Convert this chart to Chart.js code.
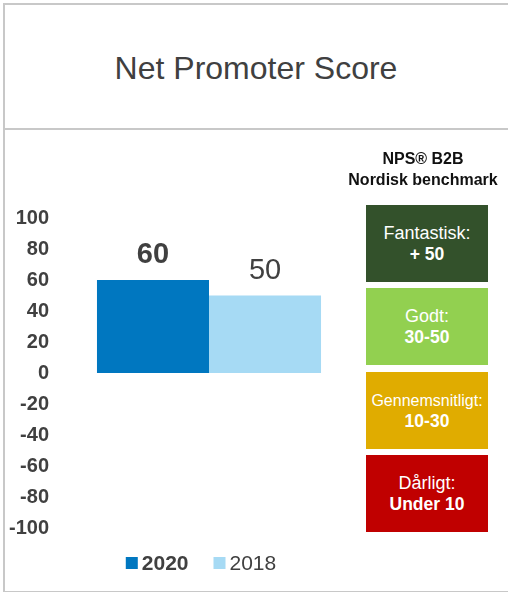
<!DOCTYPE html>
<html>
<head>
<meta charset="utf-8">
<script src="https://cdn.jsdelivr.net/npm/chart.js@4/dist/chart.umd.min.js"></script>
<style>
  body { margin: 0; background: #fff; font-family: "Liberation Sans", Arial, sans-serif; }
  #page { position: relative; width: 508px; height: 592px; overflow: hidden; }
  #frame { position: absolute; left: 3px; top: 3px; width: 520px; height: 586px; border: 2px solid #c8c8c8; }
  #divider { position: absolute; left: 3px; top: 128px; width: 520px; height: 2px; background: #c8c8c8; }
  #title { position: absolute; left: 0; top: 50px; width: 512px; text-align: center; font-size: 32px; color: #404040; }
  #chart { position: absolute; left: 0; top: 130px; }
  #bench-head { position: absolute; left: 340px; top: 148px; width: 166px; text-align: center; font-size: 16px; font-weight: bold; color: #111; line-height: 21px; }
  .box { position: absolute; left: 366px; width: 122px; height: 77px; color: #fff; text-align: center; font-size: 18px; line-height: 21px; display: flex; flex-direction: column; justify-content: center; }
  .box b { font-weight: bold; font-size: 17.5px; }
  .box span.long { font-size: 16px; }
</style>
</head>
<body>
<div id="page">
  <div id="frame"></div>
  <div id="divider"></div>
  <div id="title">Net Promoter Score</div>
  <canvas id="chart" width="361" height="460"></canvas>
  <div id="bench-head">NPS® B2B<br>Nordisk benchmark</div>
  <div id="boxes"></div>
</div>
<script>
// chart data
const categories = ['NPS']
const years = ['2020', '2018']
const npsValues = [60, 50]
const yTicks = [100, 80, 60, 40, 20, 0, -20, -40, -60, -80, -100]

// benchmark boxes
const benchLabels = ['Fantastisk:', 'Godt:', 'Gennemsnitligt:', 'Dårligt:']
const benchRanges = ['+ 50', '30-50', '10-30', 'Under 10']

const barColors = ['#0077c0', '#a6daf4']
const labelWeights = ['bold', 'normal']
const boxColors = ['#33512b', '#92d050', '#e0ac00', '#c00000']
const boxTops = [205, 288, 372, 455]

const boxesEl = document.getElementById('boxes')
benchLabels.forEach(function(lbl, i) {
  const d = document.createElement('div')
  d.className = 'box'
  d.style.top = boxTops[i] + 'px'
  d.style.background = boxColors[i]
  const cls = lbl.length > 12 ? ' class="long"' : ''
  d.innerHTML = '<span' + cls + '>' + lbl + '</span><b>' + benchRanges[i] + '</b>'
  boxesEl.appendChild(d)
})

const FONT = '"Liberation Sans", Arial, sans-serif'

// value labels above the bars
const valueLabels = {
  id: 'valueLabels',
  afterDatasetsDraw(chart) {
    const ctx = chart.ctx
    ctx.save()
    ctx.fillStyle = '#404040'
    ctx.textAlign = 'center'
    ctx.textBaseline = 'alphabetic'
    chart.data.datasets.forEach(function(ds, i) {
      chart.getDatasetMeta(i).data.forEach(function(el, j) {
        ctx.font = ds.labelWeight + ' 29px ' + FONT
        ctx.fillText(String(ds.data[j]), el.x, el.y - 17)
      })
    })
    ctx.restore()
  }
}

// legend with per-item font weight
const customLegend = {
  id: 'customLegend',
  afterDraw(chart) {
    const ctx = chart.ctx
    const area = chart.chartArea
    const box = 12, gap = 4, spacing = 25
    ctx.save()
    const items = chart.data.datasets.map(function(ds) {
      ctx.font = ds.labelWeight + ' 21px ' + FONT
      return { ds: ds, w: box + gap + ctx.measureText(ds.label).width }
    })
    const total = items.reduce(function(s, it) { return s + it.w }, 0) + spacing * (items.length - 1)
    let x = (area.left + area.right) / 2 - 8 - total / 2
    const y = area.bottom + 35
    items.forEach(function(it) {
      ctx.fillStyle = it.ds.backgroundColor
      ctx.fillRect(x, y - box / 2, box, box)
      ctx.font = it.ds.labelWeight + ' 21px ' + FONT
      ctx.fillStyle = '#404040'
      ctx.textBaseline = 'middle'
      ctx.textAlign = 'left'
      ctx.fillText(it.ds.label, x + box + gap, y + 1)
      x += it.w + spacing
    })
    ctx.restore()
  }
}

new Chart(document.getElementById('chart'), {
  type: 'bar',
  data: {
    labels: categories,
    datasets: years.map(function(yr, i) {
      return {
        label: yr,
        data: [npsValues[i]],
        backgroundColor: barColors[i],
        labelWeight: labelWeights[i],
        barPercentage: 1,
        categoryPercentage: 0.737
      }
    })
  },
  options: {
    responsive: false,
    animation: false,
    devicePixelRatio: 1,
    layout: { padding: { top: 88, bottom: 62, left: 0, right: 0 } },
    plugins: { legend: { display: false }, tooltip: { enabled: false } },
    scales: {
      x: { display: false },
      y: {
        min: yTicks[yTicks.length - 1],
        max: yTicks[0],
        afterFit(scale) { scale.width = 57 },
        afterBuildTicks(scale) { scale.ticks = yTicks.slice().reverse().map(function(v) { return { value: v } }) },
        grid: { display: false, drawTicks: false },
        border: { display: false },
        ticks: { padding: 8, color: '#404040', font: { family: FONT, size: 20, weight: 'bold' } }
      }
    }
  },
  plugins: [valueLabels, customLegend]
})
</script>
</body>
</html>
